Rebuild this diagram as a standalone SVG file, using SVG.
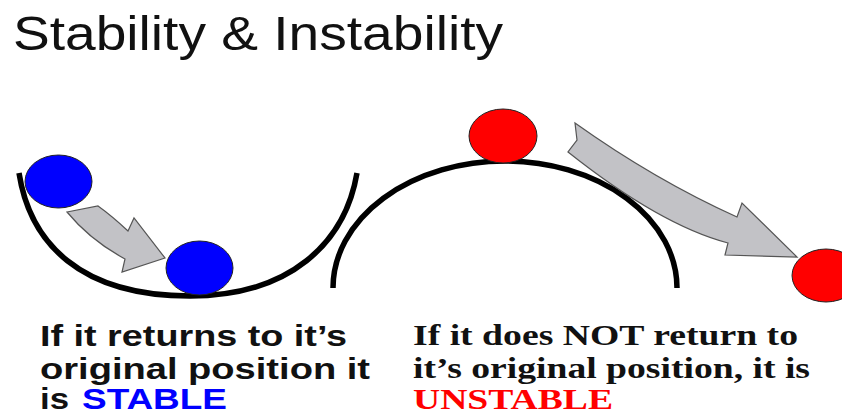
<svg xmlns="http://www.w3.org/2000/svg" width="842" height="414" viewBox="0 0 842 414">
  <style>
    .track { fill: none; stroke: #000; stroke-width: 5.5; stroke-linecap: butt; }
    .ball-blue { fill: #0000FF; stroke: #222; stroke-width: 1; }
    .ball-red { fill: #FF0000; stroke: #222; stroke-width: 1; }
    .arrow { fill: #C2C2C6; stroke: #555; stroke-width: 1.2; stroke-linejoin: miter; }
    .title { font-family: "Liberation Sans", Arial, sans-serif; font-size: 48px; fill: #111; }
    .sans { font-family: "Liberation Sans", Arial, sans-serif; font-size: 30px; font-weight: bold; fill: #111; }
    .serif { font-family: "Liberation Serif", "Times New Roman", serif; font-size: 29px; font-weight: bold; fill: #111; }
    .blue { fill: #0000FF; }
    .red { fill: #FF0000; }
  </style>
  <rect width="842" height="414" fill="#FFFFFF"/>

  <g id="title">
    <text class="title" x="13" y="50" textLength="490" lengthAdjust="spacingAndGlyphs">Stability &amp; Instability</text>
  </g>

  <g id="bowl">
    <path class="track" d="M19,173 C30,243 80,296 190,296 C290,296 345,243 357,173"/>
  </g>

  <g id="hill">
    <path class="track" d="M333,288 A172,127 0 0 1 677,288"/>
  </g>

  <g id="blue-ball-start">
    <ellipse class="ball-blue" cx="58.5" cy="181.5" rx="33.5" ry="26.5"/>
  </g>
  <g id="blue-ball-end">
    <ellipse class="ball-blue" cx="199.5" cy="268" rx="33.5" ry="27"/>
  </g>
  <g id="red-ball-start">
    <ellipse class="ball-red" cx="503" cy="136" rx="34" ry="27"/>
  </g>
  <g id="red-ball-end">
    <ellipse class="ball-red" cx="826" cy="275.5" rx="34" ry="26.5"/>
  </g>

  <g id="connectors">
    <path class="arrow" d="M67,212 L98,206 Q112,216 128,231 L134,218 L165,258 L122,272 L125,259 Q90,240 67,212 Z"/>
    <path class="arrow" d="M575,123 Q655,180 737,217 L742,203 L797,257 L725,255 L728,243 Q660,225 568,152 L577,140 Z"/>
  </g>

  <g id="stable-text">
    <text class="sans" x="40" y="346" textLength="307" lengthAdjust="spacingAndGlyphs">If it returns to it’s</text>
    <text class="sans" x="40" y="379" textLength="330" lengthAdjust="spacingAndGlyphs">original position it</text>
    <text class="sans" y="409"><tspan x="40" textLength="29" lengthAdjust="spacingAndGlyphs">is</tspan><tspan x="82" class="blue" textLength="145" lengthAdjust="spacingAndGlyphs">STABLE</tspan></text>
  </g>

  <g id="unstable-text">
    <text class="serif" x="413" y="345" textLength="385" lengthAdjust="spacingAndGlyphs">If it does NOT return to</text>
    <text class="serif" x="413" y="378" textLength="397" lengthAdjust="spacingAndGlyphs">it’s original position, it is</text>
    <text class="serif red" x="413" y="409" textLength="200" lengthAdjust="spacingAndGlyphs">UNSTABLE</text>
  </g>
</svg>
